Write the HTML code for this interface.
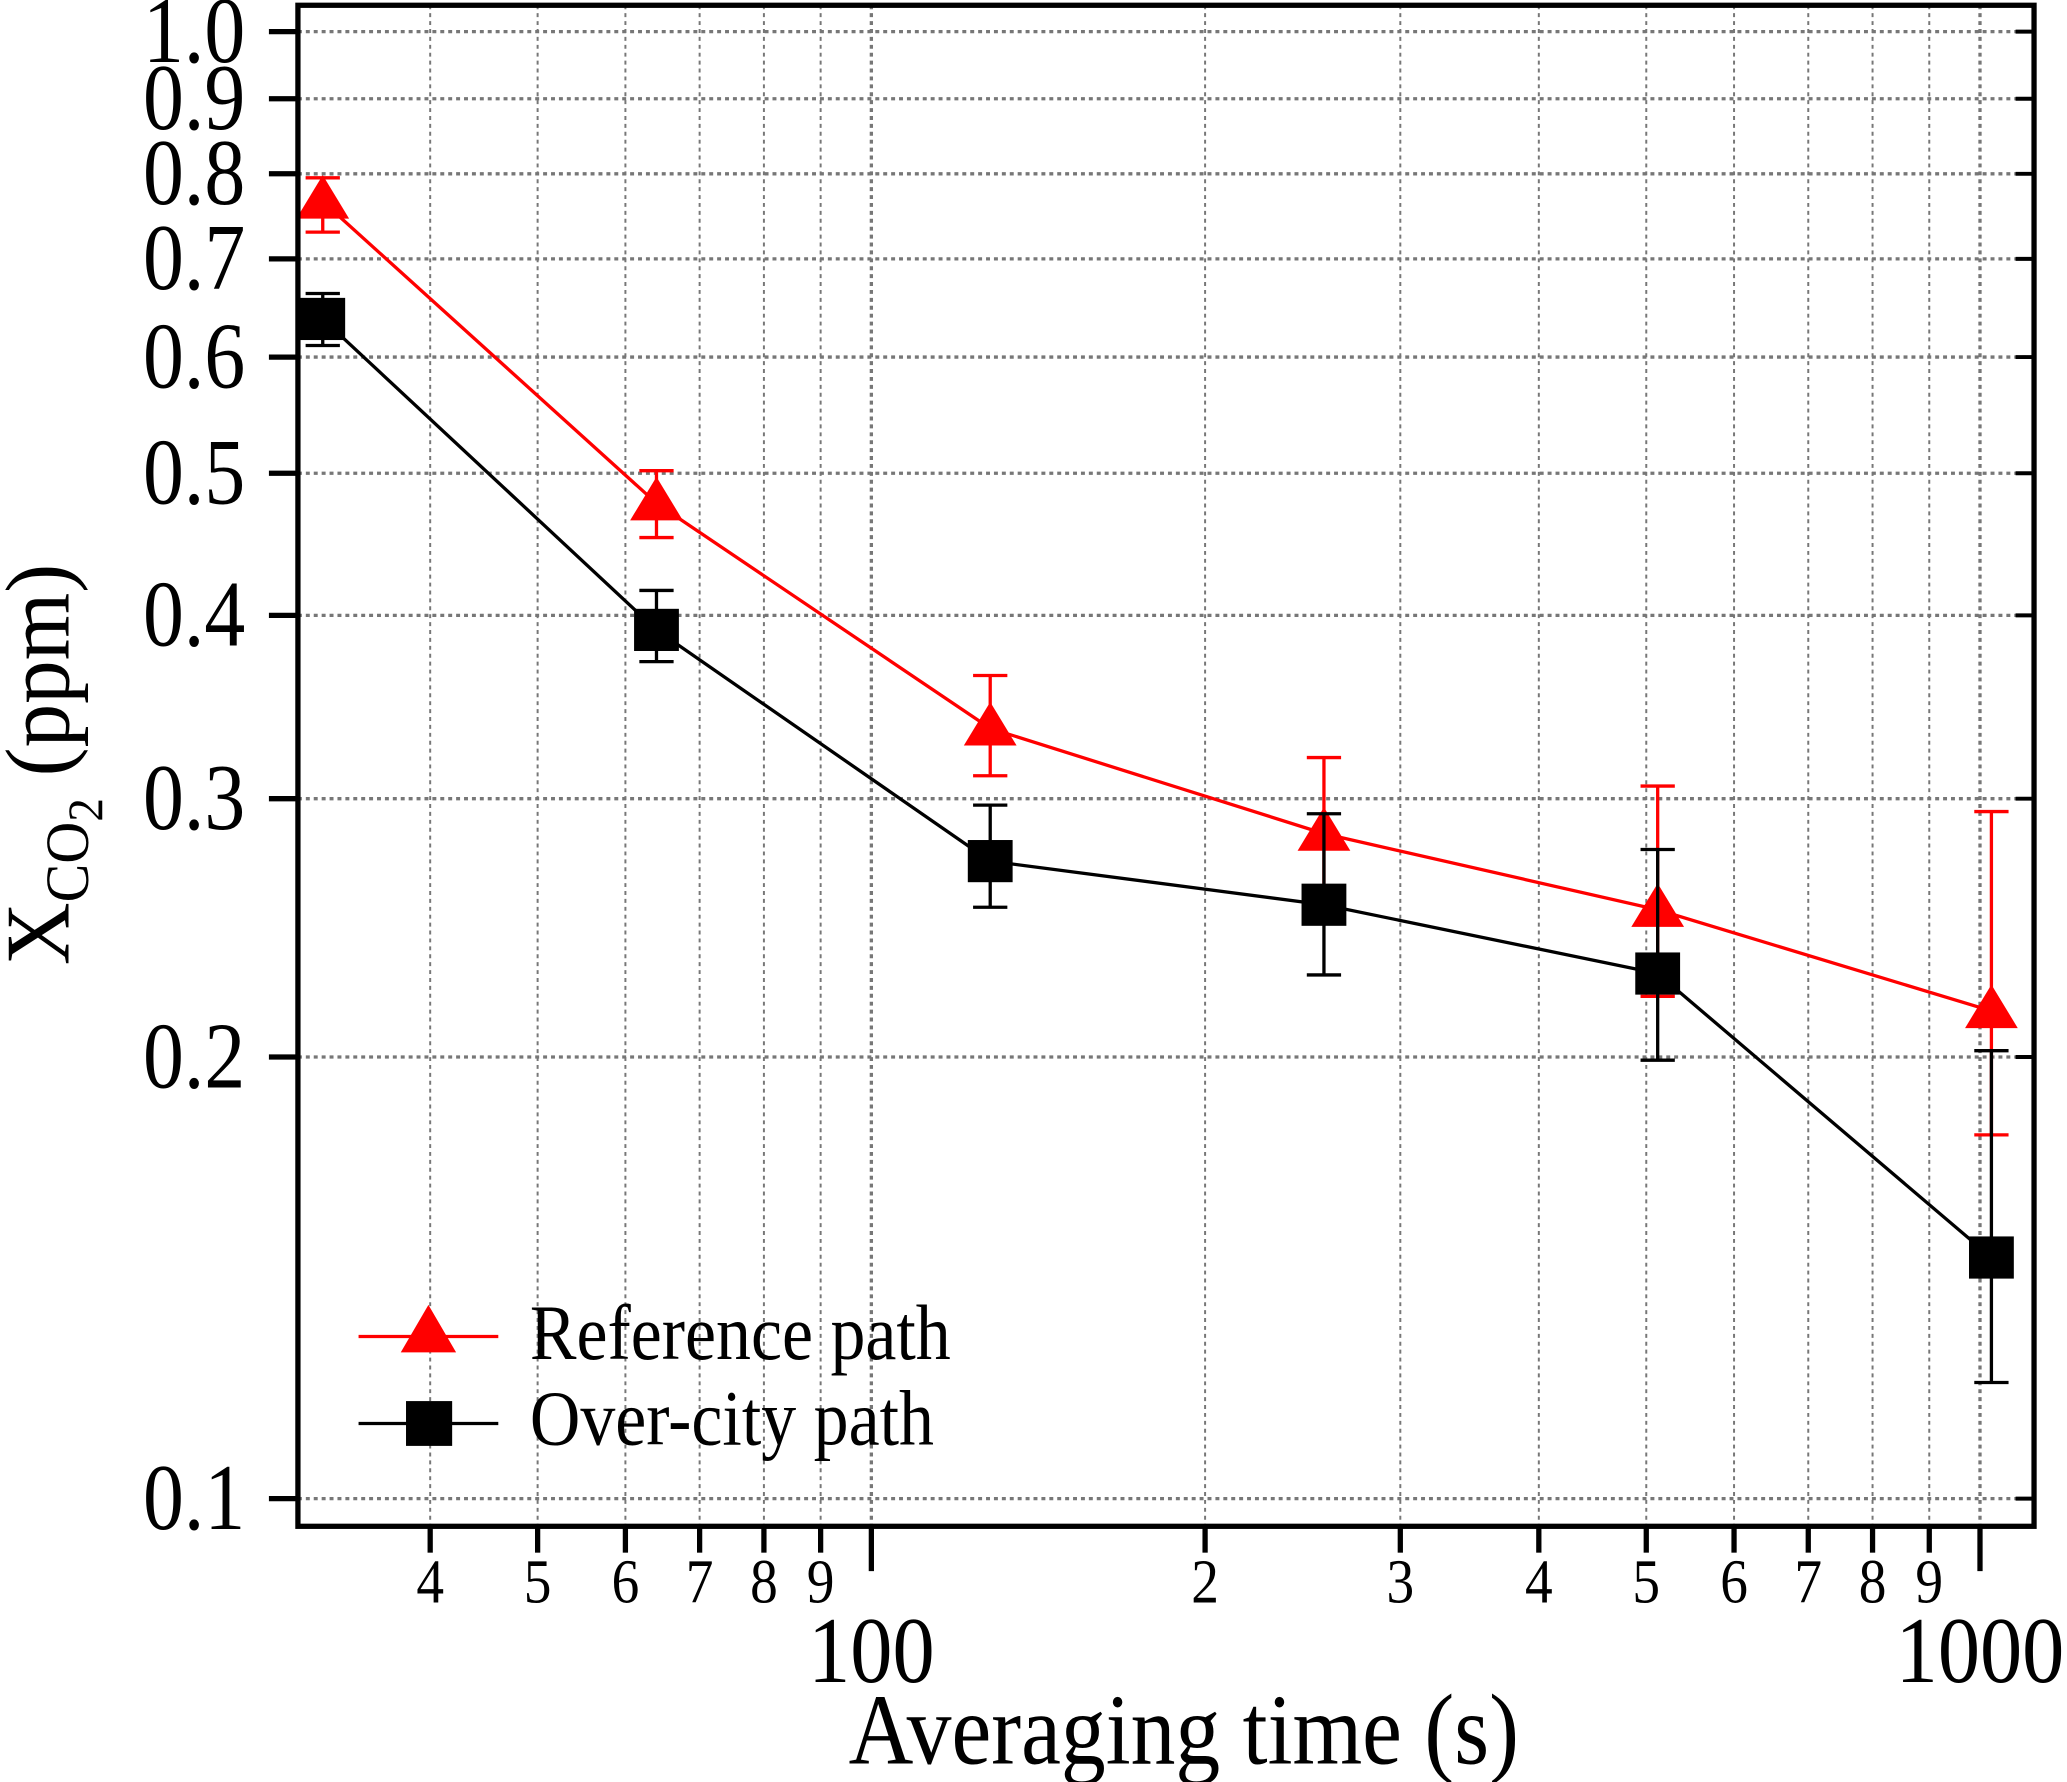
<!DOCTYPE html>
<html><head><meta charset="utf-8"><style>
html,body{margin:0;padding:0;background:#fff;}
svg{display:block;font-family:"Liberation Serif",serif;}
</style></head><body>
<svg id="chart" width="2067" height="1782" viewBox="0 0 1568 1352" preserveAspectRatio="none" xmlns="http://www.w3.org/2000/svg">
<g id="grid"></g>
<g id="series"></g>
<rect x="226" y="4" width="1317" height="1154" fill="none" stroke="#000" stroke-width="4"/>
<g id="axes"></g>
<text transform="translate(898,1338) scale(1,1.12)" font-size="68" text-anchor="middle">Averaging time (s)</text>
<text transform="translate(52,580) rotate(-90) scale(1,1.05)" font-size="66" text-anchor="middle">X<tspan font-size="44" dy="14">CO</tspan><tspan font-size="36" dy="10">2</tspan><tspan dy="-24"> (ppm)</tspan></text>
<g>
<line x1="272" y1="1014" x2="378" y2="1014" stroke="#f00" stroke-width="2.5"/>
<polygon points="325,990 304,1026 346,1026" fill="#f00"/>
<text transform="translate(402,1031) scale(1,1.12)" font-size="53">Reference path</text>
<line x1="272" y1="1080" x2="378" y2="1080" stroke="#000" stroke-width="2.5"/>
<rect x="308" y="1063" width="35" height="34" fill="#000"/>
<text transform="translate(402,1096) scale(1,1.12)" font-size="53">Over-city path</text>
</g>
</svg>
<script>
const xValues = [32, 64, 128, 256, 512, 1024];
const refMean = [0.766, 0.477, 0.335, 0.284, 0.252, 0.215];
const refHi = [0.795, 0.502, 0.364, 0.320, 0.306, 0.294];
const refLo = [0.730, 0.452, 0.311, 0.252, 0.220, 0.177];
const cityMean = [0.637, 0.391, 0.272, 0.254, 0.228, 0.146];
const cityHi = [0.663, 0.416, 0.297, 0.293, 0.277, 0.202];
const cityLo = [0.611, 0.372, 0.253, 0.2275, 0.199, 0.120];
const yTicks = [0.1, 0.2, 0.3, 0.4, 0.5, 0.6, 0.7, 0.8, 0.9, 1.0];
const yTickLabels = ["0.1","0.2","0.3","0.4","0.5","0.6","0.7","0.8","0.9","1.0"];
const xMinorTicks = [40,50,60,70,80,90,200,300,400,500,600,700,800,900];
const xMinorLabels = ["4","5","6","7","8","9","2","3","4","5","6","7","8","9"];
const xMajorTicks = [100, 1000];
const xMajorLabels = ["100","1000"];

const NS = "http://www.w3.org/2000/svg";
const L = 226, R = 1543, T = 4, B = 1158;
function xs(v){ return 661 + (Math.log10(v) - 2) * 841; }
function ys(v){ return 1137 - (Math.log10(v) + 1) * 1113; }
function mk(tag, attrs, parent){ const e = document.createElementNS(NS, tag); for (const k in attrs) e.setAttribute(k, attrs[k]); parent.appendChild(e); return e; }
const grid = document.getElementById('grid'), axes = document.getElementById('axes'), series = document.getElementById('series');

yTicks.forEach((v, i) => {
  const y = ys(v);
  const g = mk('line', {x1:L, x2:R, y1:y, y2:y, stroke:'#777', 'stroke-width':2.5, 'stroke-dasharray':'3,3'}, grid);
  
  
  const t = mk('line', {x1:L-22, x2:L, y1:y, y2:y, stroke:'#000', 'stroke-width':4}, axes);
  
  
  const t2 = mk('line', {x1:R-14, x2:R, y1:y, y2:y, stroke:'#000', 'stroke-width':3}, axes);
  
  
  const lb = mk('text', {transform:`translate(186,${y+23}) scale(1,1.15)`, 'font-size':62, 'text-anchor':'end'}, axes);
  lb.textContent = yTickLabels[i];
  
  
});
xMinorTicks.forEach((v, i) => {
  const x = xs(v);
  const g = mk('line', {x1:x, x2:x, y1:T, y2:B, stroke:'#777', 'stroke-width':1.5, 'stroke-dasharray':'3,3'}, grid);
  
  
  const t = mk('line', {x1:x, x2:x, y1:B, y2:B+20, stroke:'#000', 'stroke-width':4}, axes);
  
  
  const lb = mk('text', {transform:`translate(${x},1216) scale(1,1.12)`, 'font-size':42, 'text-anchor':'middle'}, axes);
  lb.textContent = xMinorLabels[i];
  
  
});
xMajorTicks.forEach((v, i) => {
  const x = xs(v);
  const g = mk('line', {x1:x, x2:x, y1:T, y2:B, stroke:'#777', 'stroke-width':2.5, 'stroke-dasharray':'3,3'}, grid);
  
  
  const t = mk('line', {x1:x, x2:x, y1:B, y2:B+34, stroke:'#000', 'stroke-width':4}, axes);
  
  
  const lb = mk('text', {transform:`translate(${x},1276) scale(1,1.12)`, 'font-size':64, 'text-anchor':'middle'}, axes);
  lb.textContent = xMajorLabels[i];
  
  
});

function drawSeries(mean, hi, lo, color, shape, name){
  const pts = xValues.map((v, i) => xs(v) + ',' + ys(mean[i])).join(' ');
  const pl = mk('polyline', {points:pts, fill:'none', stroke:color, 'stroke-width':2.5}, series);
  
  
  xValues.forEach((v, i) => {
    const x = xs(v), yh = ys(hi[i]), yl = ys(lo[i]), y = ys(mean[i]);
    const eb = mk('path', {d:`M${x},${yh}V${yl}M${x-13},${yh}H${x+13}M${x-13},${yl}H${x+13}`, stroke:color, 'stroke-width':2.5, fill:'none'}, series);
    
    
    let m;
    if (shape === 'tri') m = mk('polygon', {points:`${x},${y-20} ${x-20},${y+13} ${x+20},${y+13}`, fill:color}, series);
    else m = mk('rect', {x:x-17, y:y-16, width:34, height:32, fill:color}, series);
    
    
  });
}
drawSeries(refMean, refHi, refLo, '#f00', 'tri', 'reference-path');
drawSeries(cityMean, cityHi, cityLo, '#000', 'sq', 'over-city-path');
</script>
</body></html>
